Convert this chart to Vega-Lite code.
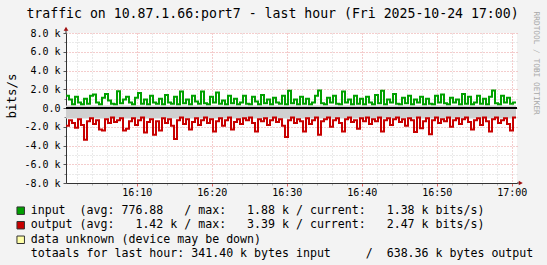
{
  "$schema": "https://vega.github.io/schema/vega-lite/v6.json",
  "width": 451,
  "height": 150,
  "autosize": {"type": "none"},
  "padding": {"left": 66, "top": 33, "right": 30, "bottom": 82},
  "background": "#f3f3f3",
  "config": {"view": {"fill": "white", "stroke": null}, "font": "DejaVu Sans Mono", "axis": {"labelOverlap": false}},
  "datasets": {
    "traffic": [
      {"t":"2025-10-24T16:00:34","in":1300,"out":-1900},
      {"t":"2025-10-24T16:00:58","in":900,"out":-1300},
      {"t":"2025-10-24T16:01:22","in":400,"out":-1600},
      {"t":"2025-10-24T16:01:46","in":1200,"out":-2100},
      {"t":"2025-10-24T16:02:10","in":600,"out":-1200},
      {"t":"2025-10-24T16:02:34","in":400,"out":-1800},
      {"t":"2025-10-24T16:02:58","in":1000,"out":-3390},
      {"t":"2025-10-24T16:03:22","in":450,"out":-1400},
      {"t":"2025-10-24T16:03:46","in":1300,"out":-1100},
      {"t":"2025-10-24T16:04:10","in":1450,"out":-1700},
      {"t":"2025-10-24T16:04:34","in":600,"out":-1300},
      {"t":"2025-10-24T16:04:58","in":400,"out":-2300},
      {"t":"2025-10-24T16:05:22","in":1100,"out":-2400},
      {"t":"2025-10-24T16:05:46","in":1500,"out":-1200},
      {"t":"2025-10-24T16:06:10","in":800,"out":-1600},
      {"t":"2025-10-24T16:06:34","in":450,"out":-1000},
      {"t":"2025-10-24T16:06:58","in":400,"out":-1500},
      {"t":"2025-10-24T16:07:22","in":1800,"out":-1300},
      {"t":"2025-10-24T16:07:46","in":500,"out":-1100},
      {"t":"2025-10-24T16:08:10","in":900,"out":-2400},
      {"t":"2025-10-24T16:08:34","in":1200,"out":-2200},
      {"t":"2025-10-24T16:08:58","in":600,"out":-1400},
      {"t":"2025-10-24T16:09:22","in":400,"out":-1100},
      {"t":"2025-10-24T16:09:46","in":1100,"out":-1800},
      {"t":"2025-10-24T16:10:10","in":1600,"out":-1300},
      {"t":"2025-10-24T16:10:34","in":450,"out":-1000},
      {"t":"2025-10-24T16:10:58","in":900,"out":-2600},
      {"t":"2025-10-24T16:11:22","in":400,"out":-1500},
      {"t":"2025-10-24T16:11:46","in":1300,"out":-1200},
      {"t":"2025-10-24T16:12:10","in":600,"out":-2850},
      {"t":"2025-10-24T16:12:34","in":450,"out":-1400},
      {"t":"2025-10-24T16:12:58","in":1000,"out":-2400},
      {"t":"2025-10-24T16:13:22","in":400,"out":-1100},
      {"t":"2025-10-24T16:13:46","in":1400,"out":-1600},
      {"t":"2025-10-24T16:14:10","in":600,"out":-1200},
      {"t":"2025-10-24T16:14:34","in":450,"out":-1900},
      {"t":"2025-10-24T16:14:58","in":1200,"out":-3300},
      {"t":"2025-10-24T16:15:22","in":400,"out":-1300},
      {"t":"2025-10-24T16:15:46","in":1750,"out":-1000},
      {"t":"2025-10-24T16:16:10","in":500,"out":-1700},
      {"t":"2025-10-24T16:16:34","in":900,"out":-1200},
      {"t":"2025-10-24T16:16:58","in":400,"out":-2300},
      {"t":"2025-10-24T16:17:22","in":1300,"out":-1500},
      {"t":"2025-10-24T16:17:46","in":700,"out":-1100},
      {"t":"2025-10-24T16:18:10","in":450,"out":-1800},
      {"t":"2025-10-24T16:18:34","in":1750,"out":-1300},
      {"t":"2025-10-24T16:18:58","in":500,"out":-1000},
      {"t":"2025-10-24T16:19:22","in":400,"out":-1600},
      {"t":"2025-10-24T16:19:46","in":1200,"out":-1200},
      {"t":"2025-10-24T16:20:10","in":600,"out":-2500},
      {"t":"2025-10-24T16:20:34","in":1650,"out":-1400},
      {"t":"2025-10-24T16:20:58","in":450,"out":-1100},
      {"t":"2025-10-24T16:21:22","in":800,"out":-1900},
      {"t":"2025-10-24T16:21:46","in":400,"out":-1300},
      {"t":"2025-10-24T16:22:10","in":1300,"out":-1000},
      {"t":"2025-10-24T16:22:34","in":500,"out":-2300},
      {"t":"2025-10-24T16:22:58","in":1000,"out":-1500},
      {"t":"2025-10-24T16:23:22","in":400,"out":-1200},
      {"t":"2025-10-24T16:23:46","in":600,"out":-1700},
      {"t":"2025-10-24T16:24:10","in":1300,"out":-1100},
      {"t":"2025-10-24T16:24:34","in":450,"out":-1300},
      {"t":"2025-10-24T16:24:58","in":400,"out":-1000},
      {"t":"2025-10-24T16:25:22","in":1200,"out":-1600},
      {"t":"2025-10-24T16:25:46","in":700,"out":-2500},
      {"t":"2025-10-24T16:26:10","in":400,"out":-1200},
      {"t":"2025-10-24T16:26:34","in":1400,"out":-1400},
      {"t":"2025-10-24T16:26:58","in":500,"out":-1100},
      {"t":"2025-10-24T16:27:22","in":900,"out":-1800},
      {"t":"2025-10-24T16:27:46","in":400,"out":-1300},
      {"t":"2025-10-24T16:28:10","in":1100,"out":-1000},
      {"t":"2025-10-24T16:28:34","in":600,"out":-1500},
      {"t":"2025-10-24T16:28:58","in":450,"out":-1200},
      {"t":"2025-10-24T16:29:22","in":1300,"out":-1900},
      {"t":"2025-10-24T16:29:46","in":400,"out":-3100},
      {"t":"2025-10-24T16:30:10","in":1850,"out":-1300},
      {"t":"2025-10-24T16:30:34","in":500,"out":-1000},
      {"t":"2025-10-24T16:30:58","in":900,"out":-1600},
      {"t":"2025-10-24T16:31:22","in":400,"out":-1200},
      {"t":"2025-10-24T16:31:46","in":1200,"out":-1400},
      {"t":"2025-10-24T16:32:10","in":450,"out":-2500},
      {"t":"2025-10-24T16:32:34","in":1000,"out":-1100},
      {"t":"2025-10-24T16:32:58","in":400,"out":-1700},
      {"t":"2025-10-24T16:33:22","in":600,"out":-1300},
      {"t":"2025-10-24T16:33:46","in":1300,"out":-1000},
      {"t":"2025-10-24T16:34:10","in":1880,"out":-2850},
      {"t":"2025-10-24T16:34:34","in":500,"out":-1400},
      {"t":"2025-10-24T16:34:58","in":400,"out":-1200},
      {"t":"2025-10-24T16:35:22","in":1100,"out":-1000},
      {"t":"2025-10-24T16:35:46","in":600,"out":-2000},
      {"t":"2025-10-24T16:36:10","in":1300,"out":-1300},
      {"t":"2025-10-24T16:36:34","in":450,"out":-1100},
      {"t":"2025-10-24T16:36:58","in":400,"out":-1600},
      {"t":"2025-10-24T16:37:22","in":1750,"out":-2500},
      {"t":"2025-10-24T16:37:46","in":600,"out":-1200},
      {"t":"2025-10-24T16:38:10","in":900,"out":-1000},
      {"t":"2025-10-24T16:38:34","in":400,"out":-1500},
      {"t":"2025-10-24T16:38:58","in":1300,"out":-1300},
      {"t":"2025-10-24T16:39:22","in":450,"out":-2200},
      {"t":"2025-10-24T16:39:46","in":1000,"out":-1100},
      {"t":"2025-10-24T16:40:10","in":400,"out":-1400},
      {"t":"2025-10-24T16:40:34","in":1200,"out":-1000},
      {"t":"2025-10-24T16:40:58","in":600,"out":-1700},
      {"t":"2025-10-24T16:41:22","in":400,"out":-1200},
      {"t":"2025-10-24T16:41:46","in":1400,"out":-1400},
      {"t":"2025-10-24T16:42:10","in":500,"out":-1000},
      {"t":"2025-10-24T16:42:34","in":1850,"out":-2500},
      {"t":"2025-10-24T16:42:58","in":400,"out":-1300},
      {"t":"2025-10-24T16:43:22","in":900,"out":-1100},
      {"t":"2025-10-24T16:43:46","in":600,"out":-1800},
      {"t":"2025-10-24T16:44:10","in":1500,"out":-1200},
      {"t":"2025-10-24T16:44:34","in":450,"out":-1000},
      {"t":"2025-10-24T16:44:58","in":400,"out":-1500},
      {"t":"2025-10-24T16:45:22","in":1100,"out":-1200},
      {"t":"2025-10-24T16:45:46","in":500,"out":-1900},
      {"t":"2025-10-24T16:46:10","in":1300,"out":-1100},
      {"t":"2025-10-24T16:46:34","in":400,"out":-1300},
      {"t":"2025-10-24T16:46:58","in":900,"out":-2550},
      {"t":"2025-10-24T16:47:22","in":600,"out":-1000},
      {"t":"2025-10-24T16:47:46","in":1200,"out":-2150},
      {"t":"2025-10-24T16:48:10","in":400,"out":-1400},
      {"t":"2025-10-24T16:48:34","in":1000,"out":-1100},
      {"t":"2025-10-24T16:48:58","in":450,"out":-2800},
      {"t":"2025-10-24T16:49:22","in":400,"out":-1300},
      {"t":"2025-10-24T16:49:46","in":1300,"out":-1000},
      {"t":"2025-10-24T16:50:10","in":600,"out":-1600},
      {"t":"2025-10-24T16:50:34","in":1450,"out":-1200},
      {"t":"2025-10-24T16:50:58","in":500,"out":-1400},
      {"t":"2025-10-24T16:51:22","in":400,"out":-1000},
      {"t":"2025-10-24T16:51:46","in":1100,"out":-2000},
      {"t":"2025-10-24T16:52:10","in":600,"out":-1300},
      {"t":"2025-10-24T16:52:34","in":900,"out":-1100},
      {"t":"2025-10-24T16:52:58","in":400,"out":-1700},
      {"t":"2025-10-24T16:53:22","in":1500,"out":-1200},
      {"t":"2025-10-24T16:53:46","in":450,"out":-1000},
      {"t":"2025-10-24T16:54:10","in":1200,"out":-1500},
      {"t":"2025-10-24T16:54:34","in":400,"out":-2300},
      {"t":"2025-10-24T16:54:58","in":600,"out":-1300},
      {"t":"2025-10-24T16:55:22","in":1300,"out":-1100},
      {"t":"2025-10-24T16:55:46","in":450,"out":-1800},
      {"t":"2025-10-24T16:56:10","in":1000,"out":-1000},
      {"t":"2025-10-24T16:56:34","in":400,"out":-1400},
      {"t":"2025-10-24T16:56:58","in":1200,"out":-2500},
      {"t":"2025-10-24T16:57:22","in":1870,"out":-1200},
      {"t":"2025-10-24T16:57:46","in":500,"out":-1000},
      {"t":"2025-10-24T16:58:10","in":400,"out":-1600},
      {"t":"2025-10-24T16:58:34","in":1300,"out":-1300},
      {"t":"2025-10-24T16:58:58","in":600,"out":-1100},
      {"t":"2025-10-24T16:59:22","in":1100,"out":-1700},
      {"t":"2025-10-24T16:59:46","in":450,"out":-2400},
      {"t":"2025-10-24T17:00:10","in":600,"out":-1000},
      {"t":"2025-10-24T17:00:34","in":600,"out":-1000}
    ],
    "legend": [
      {"row":0,"key":"input","label":"input\u00a0\u00a0(avg:\u00a0776.88\u00a0\u00a0\u00a0/\u00a0max:\u00a0\u00a0\u00a01.88\u00a0k\u00a0/\u00a0current:\u00a0\u00a0\u00a01.38\u00a0k\u00a0bits/s)"},
      {"row":1,"key":"output","label":"output\u00a0(avg:\u00a0\u00a0\u00a01.42\u00a0k\u00a0/\u00a0max:\u00a0\u00a0\u00a03.39\u00a0k\u00a0/\u00a0current:\u00a0\u00a0\u00a02.47\u00a0k\u00a0bits/s)"},
      {"row":2,"key":"unknown","label":"data\u00a0unknown\u00a0(device\u00a0may\u00a0be\u00a0down)"},
      {"row":3,"key":"none","label":"totaals\u00a0for\u00a0last\u00a0hour:\u00a0341.40\u00a0k\u00a0bytes\u00a0input\u00a0\u00a0\u00a0\u00a0\u00a0/\u00a0\u00a0638.36\u00a0k\u00a0bytes\u00a0output"}
    ]
  },
  "layer": [
    {
      "layer": [
        {
          "data": {"values": [{"band": "input"}]},
          "mark": {"type": "rect", "color": "#d0d0d0"},
          "encoding": {
            "x": {"datum": {"year":2025,"month":10,"date":24,"hours":16,"minutes":0,"seconds":34}, "type": "temporal",
                  "scale": {"domain": [{"year":2025,"month":10,"date":24,"hours":16,"minutes":0,"seconds":34},{"year":2025,"month":10,"date":24,"hours":17,"minutes":0,"seconds":42}], "nice": false},
                  "axis": {
                    "orient": "bottom", "title": null, "labels": false, "domain": false, "tickCount": 40,
                    "values": [
                      {"year":2025,"month":10,"date":24,"hours":16,"minutes":2},
                      {"year":2025,"month":10,"date":24,"hours":16,"minutes":4},
                      {"year":2025,"month":10,"date":24,"hours":16,"minutes":6},
                      {"year":2025,"month":10,"date":24,"hours":16,"minutes":8},
                      {"year":2025,"month":10,"date":24,"hours":16,"minutes":12},
                      {"year":2025,"month":10,"date":24,"hours":16,"minutes":14},
                      {"year":2025,"month":10,"date":24,"hours":16,"minutes":16},
                      {"year":2025,"month":10,"date":24,"hours":16,"minutes":18},
                      {"year":2025,"month":10,"date":24,"hours":16,"minutes":22},
                      {"year":2025,"month":10,"date":24,"hours":16,"minutes":24},
                      {"year":2025,"month":10,"date":24,"hours":16,"minutes":26},
                      {"year":2025,"month":10,"date":24,"hours":16,"minutes":28},
                      {"year":2025,"month":10,"date":24,"hours":16,"minutes":32},
                      {"year":2025,"month":10,"date":24,"hours":16,"minutes":34},
                      {"year":2025,"month":10,"date":24,"hours":16,"minutes":36},
                      {"year":2025,"month":10,"date":24,"hours":16,"minutes":38},
                      {"year":2025,"month":10,"date":24,"hours":16,"minutes":42},
                      {"year":2025,"month":10,"date":24,"hours":16,"minutes":44},
                      {"year":2025,"month":10,"date":24,"hours":16,"minutes":46},
                      {"year":2025,"month":10,"date":24,"hours":16,"minutes":48},
                      {"year":2025,"month":10,"date":24,"hours":16,"minutes":52},
                      {"year":2025,"month":10,"date":24,"hours":16,"minutes":54},
                      {"year":2025,"month":10,"date":24,"hours":16,"minutes":56},
                      {"year":2025,"month":10,"date":24,"hours":16,"minutes":58}
                    ],
                    "ticks": true, "tickSize": 2, "tickColor": "#b8b8b8",
                    "grid": true, "gridColor": "#d4d4d4", "gridDash": [1, 2]
                  }},
            "x2": {"datum": {"year":2025,"month":10,"date":24,"hours":17,"minutes":0,"seconds":34}},
            "y": {"datum": 280, "type": "quantitative",
                  "scale": {"domain": [-8000, 8000], "nice": false, "zero": false},
                  "axis": {
                    "orient": "left", "title": null, "labels": false, "domain": false, "tickCount": 40,
                    "values": [-7000, -5000, -3000, -1000, 1000, 3000, 5000, 7000],
                    "ticks": true, "tickSize": 2, "tickColor": "#888",
                    "grid": true, "gridColor": "#d4d4d4", "gridDash": [1, 2]
                  }},
            "y2": {"datum": 0}
          }
        },
        {
          "data": {"values": [{"band": "output"}]},
          "mark": {"type": "rect", "color": "#d0d0d0"},
          "encoding": {
            "x": {"datum": {"year":2025,"month":10,"date":24,"hours":16,"minutes":0,"seconds":34}, "type": "temporal"},
            "x2": {"datum": {"year":2025,"month":10,"date":24,"hours":17,"minutes":0,"seconds":34}},
            "y": {"datum": -1120, "type": "quantitative"},
            "y2": {"datum": 0}
          }
        }
      ]
    },
    {
      "layer": [
        {
          "data": {"name": "traffic"},
          "mark": {"type": "line", "interpolate": "step-after", "color": "#00a000", "strokeWidth": 2},
          "encoding": {
            "x": {"field": "t", "type": "temporal",
              "scale": {"domain": [{"year":2025,"month":10,"date":24,"hours":16,"minutes":0,"seconds":34},{"year":2025,"month":10,"date":24,"hours":17,"minutes":0,"seconds":42}], "nice": false},
              "axis": {
                "orient": "bottom", "title": null, "tickCount": 40,
                "values": [
                  {"year":2025,"month":10,"date":24,"hours":16,"minutes":10},
                  {"year":2025,"month":10,"date":24,"hours":16,"minutes":20},
                  {"year":2025,"month":10,"date":24,"hours":16,"minutes":30},
                  {"year":2025,"month":10,"date":24,"hours":16,"minutes":40},
                  {"year":2025,"month":10,"date":24,"hours":16,"minutes":50},
                  {"year":2025,"month":10,"date":24,"hours":17,"minutes":0}
                ],
                "format": "%H:%M",
                "labelFont": "DejaVu Sans Mono", "labelFontSize": 10, "labelColor": "#000",
                "labelPadding": 1, "labelFlush": false, "labelOverlap": false,
                "tickSize": 3, "tickColor": "#e06060",
                "grid": true, "gridColor": "#e99a9a", "gridDash": [1, 2],
                "domainColor": "#333"
              }
            },
            "y": {"field": "in", "type": "quantitative",
              "scale": {"domain": [-8000, 8000], "nice": false, "zero": false},
              "axis": {
                "orient": "left", "tickCount": 40,
                "title": "bits/s", "titleFont": "DejaVu Sans Mono", "titleFontSize": 12.5, "titleFontWeight": "normal",
                "titleColor": "#000", "titleX": -55, "titleY": 62.5, "titleAngle": -90, "titleBaseline": "middle", "titleAlign": "center",
                "values": [-8000, -6000, -4000, -2000, 0, 2000, 4000, 6000, 8000],
                "labelExpr": "datum.value == 0 ? '0.0' : (datum.value < 0 ? '-' : '') + format(abs(datum.value) / 1000, '.1f') + ' k'",
                "labelFont": "DejaVu Sans Mono", "labelFontSize": 10, "labelColor": "#000",
                "labelPadding": 3, "labelOverlap": false, "tickSize": 3, "tickColor": "#555",
                "grid": true, "gridColor": "#e99a9a", "gridDash": [1, 2],
                "domainColor": "#333"
              }
            }
          }
        },
        {
          "data": {"name": "traffic"},
          "mark": {"type": "line", "interpolate": "step-after", "color": "#c80000", "strokeWidth": 2},
          "encoding": {
            "x": {"field": "t", "type": "temporal"},
            "y": {"field": "out", "type": "quantitative"}
          }
        },
        {
          "data": {"values": [{"line": "zero"}]},
          "mark": {"type": "rule", "color": "#000", "strokeWidth": 2},
          "encoding": {"y": {"datum": 0, "type": "quantitative"}}
        },
        {
          "data": {"values": [{"line": "yaxis"}]},
          "mark": {"type": "rule", "color": "#333", "strokeWidth": 1},
          "encoding": {
            "x": {"datum": {"year":2025,"month":10,"date":24,"hours":16,"minutes":0,"seconds":34}, "type": "temporal"},
            "y": {"datum": 8000, "type": "quantitative"},
            "y2": {"datum": 8350}
          }
        },
        {
          "data": {"values": [{"line": "xaxis"}]},
          "mark": {"type": "rule", "color": "#333", "strokeWidth": 1},
          "encoding": {
            "x": {"datum": {"year":2025,"month":10,"date":24,"hours":17,"minutes":0,"seconds":42}, "type": "temporal"},
            "x2": {"datum": {"year":2025,"month":10,"date":24,"hours":17,"minutes":1,"seconds":2}},
            "y": {"datum": -8000, "type": "quantitative"}
          }
        },
        {
          "data": {"values": [{"arrow": "up"}]},
          "mark": {"type": "point", "shape": "triangle-up", "filled": true, "color": "#a01010", "size": 22, "opacity": 1},
          "encoding": {
            "x": {"datum": {"year":2025,"month":10,"date":24,"hours":16,"minutes":0,"seconds":34}, "type": "temporal"},
            "y": {"datum": 8450, "type": "quantitative"}
          }
        },
        {
          "data": {"values": [{"arrow": "right"}]},
          "mark": {"type": "point", "shape": "triangle-right", "filled": true, "color": "#a01010", "size": 22, "opacity": 1},
          "encoding": {
            "x": {"datum": {"year":2025,"month":10,"date":24,"hours":17,"minutes":1,"seconds":12}, "type": "temporal"},
            "y": {"datum": -8000, "type": "quantitative"}
          }
        },
        {
          "data": {"values": [{"note": "credit"}]},
          "mark": {"type": "text", "angle": 90, "font": "DejaVu Sans Mono", "fontSize": 7.8, "color": "#a8a8a8", "align": "center", "baseline": "middle"},
          "encoding": {
            "x": {"datum": {"year":2025,"month":10,"date":24,"hours":17,"minutes":3,"seconds":14}, "type": "temporal"},
            "y": {"datum": 4780, "type": "quantitative"},
            "text": {"value": "RRDTOOL / TOBI OETIKER"}
          }
        },
        {
          "data": {"values": [{"note": "title"}]},
          "mark": {"type": "text", "font": "DejaVu Sans Mono", "fontSize": 13.2, "color": "#000", "align": "center", "baseline": "alphabetic"},
          "encoding": {
            "x": {"datum": {"year":2025,"month":10,"date":24,"hours":16,"minutes":28,"seconds":6}, "type": "temporal"},
            "y": {"datum": 9547, "type": "quantitative"},
            "text": {"value": "traffic on 10.87.1.66:port7 - last hour (Fri 2025-10-24 17:00)"}
          }
        }
      ]
    },
    {
      "data": {"name": "legend"},
      "layer": [
        {
          "transform": [{"filter": "datum.key != 'none'"}],
          "mark": {"type": "square", "size": 56, "stroke": "#333", "strokeWidth": 1, "filled": true, "opacity": 1},
          "encoding": {
            "x": {"datum": -1.6, "type": "quantitative", "scale": {"domain": [0, 73], "range": [-35.3, 464.2]}, "axis": null},
            "y": {"field": "row", "type": "quantitative", "scale": {"domain": [0, 3], "range": [177.7, 221.3]}, "axis": null},
            "color": {"field": "key", "type": "nominal", "scale": {"domain": ["input", "output", "unknown"], "range": ["#00a000", "#c80000", "#ffffa8"]}, "legend": null}
          }
        },
        {
          "mark": {"type": "text", "align": "left", "baseline": "middle", "font": "DejaVu Sans Mono", "fontSize": 11.6, "color": "#000"},
          "encoding": {
            "x": {"datum": 0, "type": "quantitative"},
            "y": {"field": "row", "type": "quantitative"},
            "text": {"field": "label"}
          }
        }
      ]
    }
  ],
  "resolve": {"scale": {"x": "independent", "y": "independent"}}
}
